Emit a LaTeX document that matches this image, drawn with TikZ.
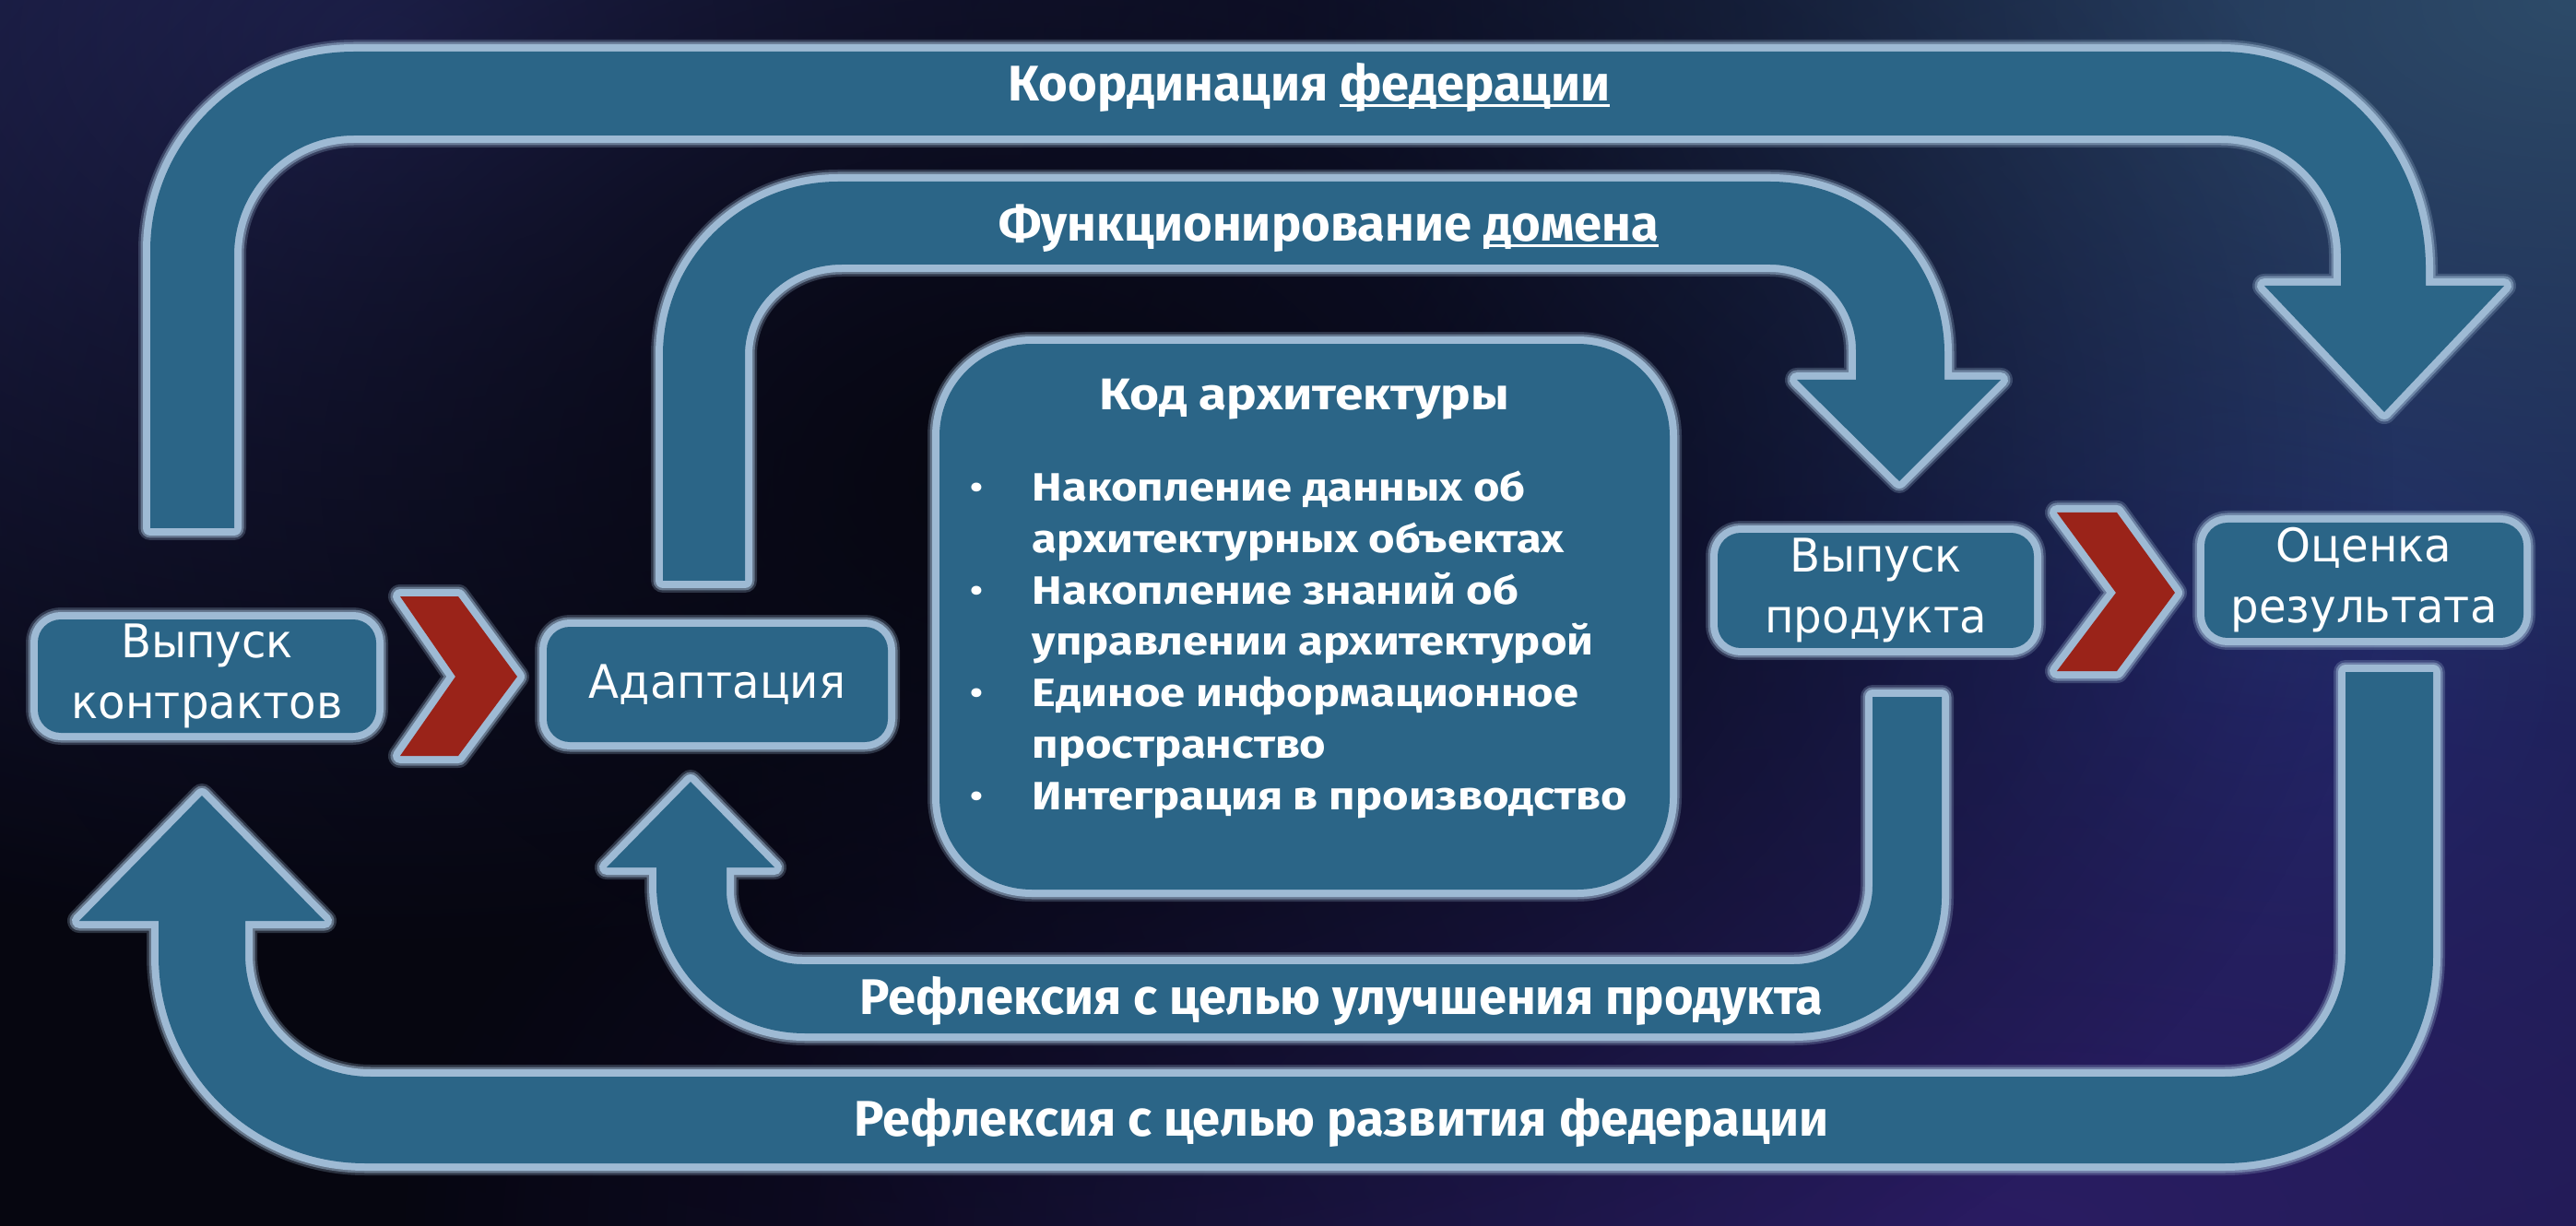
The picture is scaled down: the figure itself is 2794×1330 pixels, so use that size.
\documentclass[tikz,border=0pt]{standalone}
\usepackage{fontspec}
\setmainfont{DejaVu Sans}[FakeStretch=0.96]
\newfontfamily\headfont{Fira Sans}
\newfontfamily\codefont{Fira Sans}[FakeStretch=1.14]
\usepackage{xcolor}
\usetikzlibrary{fadings}
\definecolor{bandfill}{RGB}{43,101,135}
\definecolor{halo}{RGB}{158,186,212}
\definecolor{chevred}{RGB}{154,35,25}
\definecolor{bgbase}{RGB}{6,6,16}
\definecolor{bgblue}{RGB}{40,44,100}
\definecolor{bgright}{RGB}{34,44,110}
\definecolor{bgslate}{RGB}{45,75,105}
\definecolor{bgviolet}{RGB}{42,28,98}
\tikzfading[name=blobfade, inner color=transparent!0, outer color=transparent!100]
\newcommand{\ulword}[1]{\setbox0\hbox{#1}\rlap{\rule[-0.65mm]{\wd0}{0.3mm}}\box0}

\begin{document}
\begin{tikzpicture}[
  x=0.1mm, y=-0.1mm,
  band/.style={fill=bandfill, line join=round,
               preaction={draw=halo, draw opacity=0.25, line width=2.6mm, line join=round},
               preaction={draw=halo, draw opacity=0.5, line width=2.1mm, line join=round},
               preaction={draw=halo, line width=1.6mm, line join=round}},
  chev/.style={band, fill=chevred},
  stage/.style={band, rounded corners=2.5mm, inner sep=0pt, text=white,
                align=center, font=\fontsize{14.3}{18.8}\selectfont},
  loopname/.style={text=white, anchor=base, inner sep=0pt,
                   font=\headfont\bfseries\fontsize{15.45}{18}\selectfont},
  codetext/.style={text=white, inner sep=0pt, align=left,
                   font=\codefont\bfseries\fontsize{12.2}{15.9}\selectfont}]

  \useasboundingbox (0,0) rectangle (2794,1330);

  % --- backdrop
  \begin{scope}
    \clip (0,0) rectangle (2794,1330);
    \fill[bgbase] (0,0) rectangle (2794,1330);
    \fill[bgblue, path fading=blobfade] (420,40) ellipse (1500 and 1000);
    \fill[bgright, path fading=blobfade] (2450,720) ellipse (1700 and 1500);
    \fill[bgslate, path fading=blobfade] (2794,0) ellipse (1400 and 800);
    \fill[bgviolet, path fading=blobfade] (2200,1330) ellipse (1800 and 800);
    \fill[bgbase, path fading=blobfade] (1100,520) ellipse (1500 and 1100);
  \end{scope}

  % --- outer loop on top: federation
  \path[band] (163,573) -- (163,272)
    arc[start angle=180, end angle=270, x radius=221, y radius=216]
    -- (2409,56) arc[start angle=270, end angle=360, x radius=222, y radius=235]
    -- (2631,310) -- (2716,310) -- (2586,447) -- (2456,310) -- (2539,310) -- (2539,277)
    arc[start angle=0, end angle=-90, x radius=130, y radius=130]
    -- (384,147) arc[start angle=270, end angle=180, x radius=130, y radius=130]
    -- (254,573) -- cycle;

  % --- inner loop on top: domain
  \path[band] (719,630) -- (719,385)
    arc[start angle=180, end angle=270, x radius=190, y radius=188]
    -- (1920,197) arc[start angle=270, end angle=360, x radius=189, y radius=186]
    -- (2109,412) -- (2170,412) -- (2060,522) -- (1949,412) -- (2013,412) -- (2013,380)
    arc[start angle=0, end angle=-90, x radius=93, y radius=93]
    -- (913,287) arc[start angle=270, end angle=180, x radius=105, y radius=98]
    -- (808,630) -- cycle;

  % --- inner loop below: product
  \path[band] (2031,756) -- (2106,756) -- (2106,973)
    arc[start angle=0, end angle=90, x radius=160, y radius=148]
    -- (873,1121) arc[start angle=90, end angle=180, x radius=161, y radius=161]
    -- (712,941) -- (658,941) -- (749,848) -- (840,941) -- (788,941) -- (788,966)
    arc[start angle=180, end angle=90, x radius=82, y radius=80]
    -- (1946,1046) arc[start angle=90, end angle=0, x radius=85, y radius=85]
    -- cycle;

  % --- outer loop below: federation growth
  \path[band] (2544,729) -- (2639,729) -- (2639,1037)
    arc[start angle=0, end angle=90, x radius=226, y radius=225]
    -- (396,1262) arc[start angle=90, end angle=180, x radius=224, y radius=225]
    -- (172,999) -- (86,999) -- (219,863) -- (352,999) -- (266,999) -- (266,1035)
    arc[start angle=180, end angle=90, x radius=136, y radius=133]
    -- (2413,1168) arc[start angle=90, end angle=0, x radius=131, y radius=135]
    -- cycle;

  % --- chevrons between stages
  \path[chev] (434,647) -- (497,647) -- (561,734) -- (497,820) -- (434,820) -- (494,734) -- cycle;
  \path[chev] (2231,556) -- (2296,556) -- (2359,643) -- (2296,728) -- (2231,728) -- (2295,643) -- cycle;

  % --- stages
  \node[stage, minimum width=36.7mm, minimum height=12.3mm] (contr) at (224.5,733.5) {Выпуск\\контрактов};
  \node[stage, minimum width=37mm,   minimum height=12.5mm] (adapt) at (778,742.5)   {Адаптация};
  \node[stage, minimum width=34.3mm, minimum height=12.5mm] (prod)  at (2034.5,640.5) {Выпуск\\продукта};
  \node[stage, minimum width=34.6mm, minimum height=12.5mm] (eval)  at (2564,629.5)  {Оценка\\результата};

  % --- architecture code in the middle
  \node[band, rounded corners=10mm, minimum width=79.2mm, minimum height=59.2mm] (code) at (1415,669) {};
  \node[codetext, anchor=base, font=\codefont\bfseries\fontsize{13.7}{16}\selectfont] (codetitle) at (1415,445) {Код архитектуры};
  \node[codetext, anchor=north west] (codelist) at (1051,510)
    {\makebox[6.8mm][l]{\mdseries•}Накопление данных об\\
     \hspace*{6.8mm}архитектурных объектах\\
     \makebox[6.8mm][l]{\mdseries•}Накопление знаний об\\
     \hspace*{6.8mm}управлении архитектурой\\
     \makebox[6.8mm][l]{\mdseries•}Единое информационное\\
     \hspace*{6.8mm}пространство\\
     \makebox[6.8mm][l]{\mdseries•}Интеграция в производство};

  % --- loop names
  \node[loopname] (coord) at (1420,110)  {Координация \ulword{федерации}};
  \node[loopname] (func)  at (1441,262)  {Функционирование \ulword{домена}};
  \node[loopname] (impr)  at (1455,1100) {Рефлексия с целью улучшения продукта};
  \node[loopname] (devl)  at (1455,1232) {Рефлексия с целью развития федерации};
\end{tikzpicture}
\end{document}
